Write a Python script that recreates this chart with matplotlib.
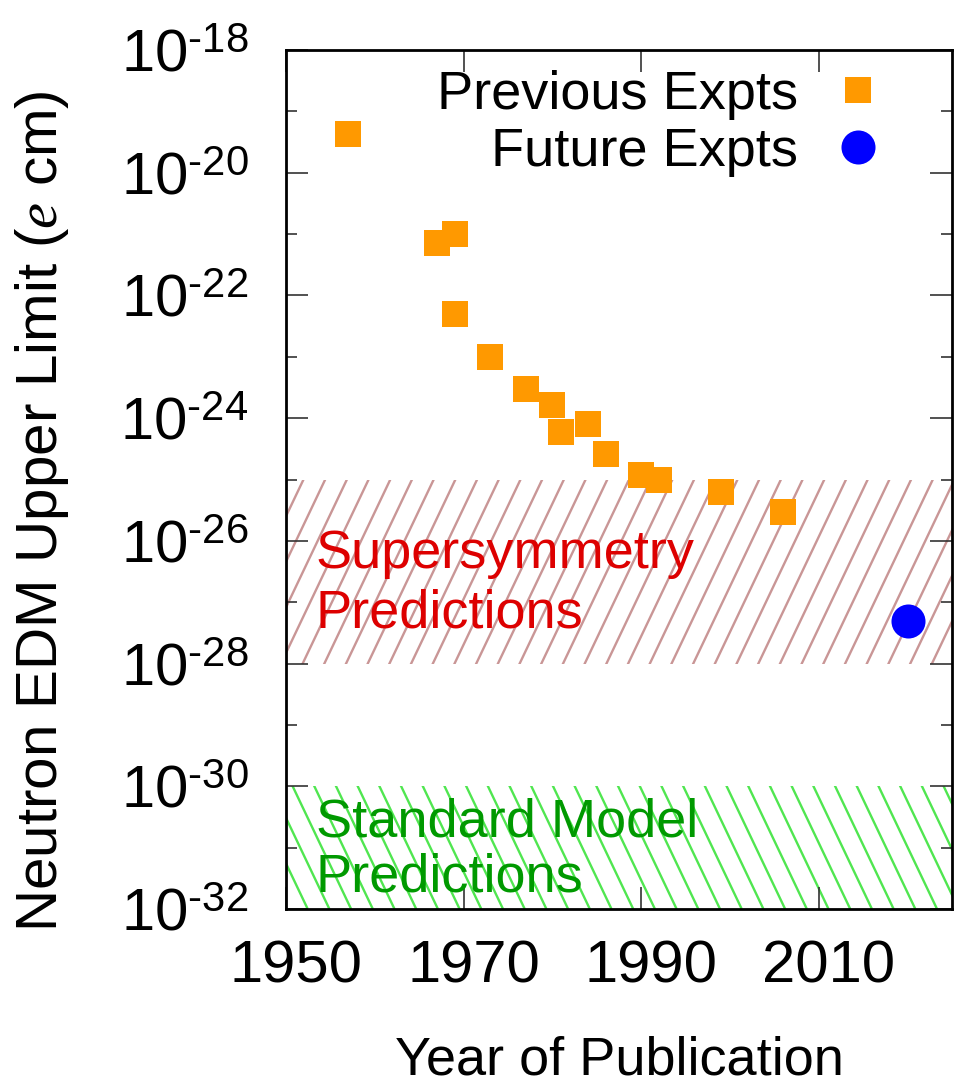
import matplotlib
matplotlib.use("Agg")
import matplotlib.pyplot as plt
import matplotlib.ticker as ticker
from matplotlib.transforms import ScaledTranslation
import numpy as np

plt.rcParams['font.family'] = ['Liberation Sans', 'DejaVu Sans']
plt.rcParams['mathtext.fontset'] = 'custom'
plt.rcParams['mathtext.rm'] = 'Liberation Sans'
plt.rcParams['mathtext.it'] = 'Liberation Serif:italic'

# neutron EDM upper limits (e cm) by year of publication
years_prev = [1957, 1967, 1969, 1969, 1973, 1977, 1980, 1981, 1984, 1986,
              1990, 1992, 1999, 2006]
edm_prev = [4.2e-20, 7.2e-22, 1.0e-21, 5.0e-23, 1.0e-23, 3.0e-24, 1.65e-24,
            6.0e-25, 8.1e-25, 2.6e-25, 1.2e-25, 9.9e-26, 6.3e-26, 2.9e-26]
years_future = [2020]
edm_future = [5.0e-28]

susy_band = (1e-28, 1e-25)
sm_band = (1e-32, 1e-30)

xticks = [1950, 1970, 1990, 2010]
major_exp = list(range(-32, -17, 2))
minor_exp = list(range(-31, -18, 2))

fig = plt.figure(figsize=(9.55, 10.84), dpi=100)
ax = fig.add_axes([0.2995, 0.1614, 0.6974, 0.7925])
ax.set_yscale('log')
ax.set_xlim(1950, 2025)
ax.set_ylim(1e-32, 1e-18)


def hatch_band(lo, hi, color, sign, phase):
    # slanted hatch lines drawn in pixel space and clipped to the band
    span = ax.axhspan(lo, hi, facecolor='none', edgecolor='none')
    W, H = 666.0, 859.0
    slope = 2.1
    step = 21.7
    run = H / slope
    for x0 in np.arange(-run - step + phase, W + step, step):
        if sign > 0:
            xs = [x0 / W, (x0 + run) / W]
        else:
            xs = [(x0 + run) / W, x0 / W]
        ln, = ax.plot(xs, [0, 1], transform=ax.transAxes, color=color,
                      lw=1.7, solid_capstyle='butt', zorder=1)
        ln.set_clip_path(span)


hatch_band(*susy_band, '#c99696', +1, 5)
hatch_band(*sm_band, '#50e650', -1, 0)

ax.plot(years_prev, edm_prev, 's', color='#ff9900', ms=18.7, mew=0,
        ls='none', label='Previous Expts', zorder=3)
ax.plot(years_future, edm_future, 'o', color='#0000ff', ms=24.5, mew=0,
        ls='none', label='Future Expts', zorder=3)

ax.text(0.045, 0.397, 'Supersymmetry', transform=ax.transAxes,
        color='#dd0000', fontsize=39, va='baseline', zorder=4)
ax.text(0.045, 0.328, 'Predictions', transform=ax.transAxes,
        color='#dd0000', fontsize=39, va='baseline', zorder=4)
ax.text(0.045, 0.084, 'Standard Model', transform=ax.transAxes,
        color='#009900', fontsize=39, va='baseline', zorder=4)
ax.text(0.045, 0.021, 'Predictions', transform=ax.transAxes,
        color='#009900', fontsize=39, va='baseline', zorder=4)

ax.set_xticks(xticks)
ax.set_xticklabels([str(y) for y in xticks])
ax.yaxis.set_major_locator(ticker.FixedLocator([10.0**e for e in major_exp]))
ax.yaxis.set_minor_locator(ticker.FixedLocator([10.0**e for e in minor_exp]))
ax.set_yticklabels([r'$10^{\text{%d}}$' % e for e in major_exp])
ax.yaxis.set_minor_formatter(ticker.NullFormatter())

ax.tick_params(which='both', direction='in', top=True, right=True,
               color='#333333', width=1.2)
ax.tick_params(which='major', length=16, labelsize=43)
ax.tick_params(which='minor', length=8)
ax.tick_params(axis='x', pad=22)
ax.tick_params(axis='y', pad=27)
for lbl in ax.get_xticklabels():
    lbl.set_transform(lbl.get_transform() +
                      ScaledTranslation(0.10, 0, fig.dpi_scale_trans))
for sp in ax.spines.values():
    sp.set_linewidth(2.0)

ax.set_xlabel('Year of Publication', fontsize=39)
ax.xaxis.set_label_coords(0.5, -0.147)
fig.text(0.044, 1 - 511 / 1084, r'Neutron EDM Upper Limit ($\mathit{e}$ cm)',
         rotation=90, ha='center', va='center', fontsize=42)

leg = ax.legend(loc='upper right', bbox_to_anchor=(0.8994, 0.977),
                markerfirst=False, frameon=False, fontsize=39,
                handlelength=1.0, handletextpad=0.6, borderpad=0,
                borderaxespad=0, labelspacing=0.13)
for t in leg.get_texts():
    t.set_ha('right')

fig.savefig('out.png', dpi=100)
